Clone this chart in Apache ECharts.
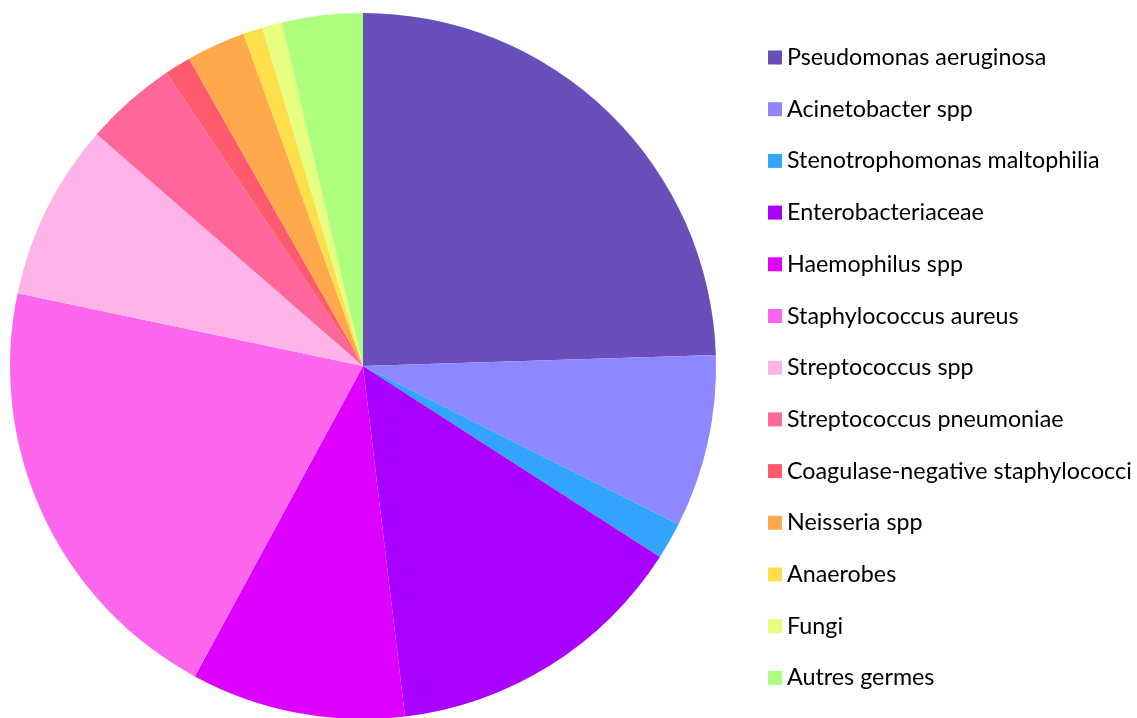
<html>
<head>
<meta charset="utf-8">
<title>Germes</title>
<script src="https://cdn.jsdelivr.net/npm/echarts@6/dist/echarts.min.js"></script>
<style>
  html, body { margin: 0; padding: 0; background: #fff; }
</style>
</head>
<body>
<div id="main" style="width:1137px;height:718px;"></div>
<script type="text/javascript">
// categories, read clockwise from 12 o'clock
var germes = ['Pseudomonas aeruginosa', 'Acinetobacter spp', 'Stenotrophomonas maltophilia',
  'Enterobacteriaceae', 'Haemophilus spp', 'Staphylococcus aureus', 'Streptococcus spp',
  'Streptococcus pneumoniae', 'Coagulase-negative staphylococci', 'Neisseria spp',
  'Anaerobes', 'Fungi', 'Autres germes'];
// share in %
var parts = [24.5, 7.9, 1.7, 14.0, 9.8, 20.4, 8.1, 4.2, 1.2, 2.7, 0.9, 0.9, 3.7];
var couleurs = ['#684fb9', '#8f87ff', '#33a4ff', '#aa00ff', '#dd00ff', '#ff66ee', '#ffb3e8',
  '#ff6699', '#ff5a6e', '#ffa84c', '#ffe04a', '#e6ff80', '#aeff7e'];

var myChart = echarts.init(document.getElementById('main'));

var data = [];
for (var i = 0; i < germes.length; i++) {
  data.push({ name: germes[i], value: parts[i] });
}

var option = {
  animation: false,
  color: couleurs,
  legend: {
    orient: 'vertical',
    left: 763,
    top: 41,
    itemWidth: 14,
    itemHeight: 14,
    itemGap: 28.7,
    icon: 'rect',
    textStyle: { fontFamily: 'Lato', fontSize: 23.3, color: '#000' },
    data: germes
  },
  series: [{
    type: 'pie',
    center: [363, 366],
    radius: 353,
    startAngle: 90,
    clockwise: true,
    label: { show: false },
    labelLine: { show: false },
    itemStyle: { borderWidth: 0 },
    emphasis: { disabled: true },
    data: data
  }]
};
myChart.setOption(option);
</script>
</body>
</html>
